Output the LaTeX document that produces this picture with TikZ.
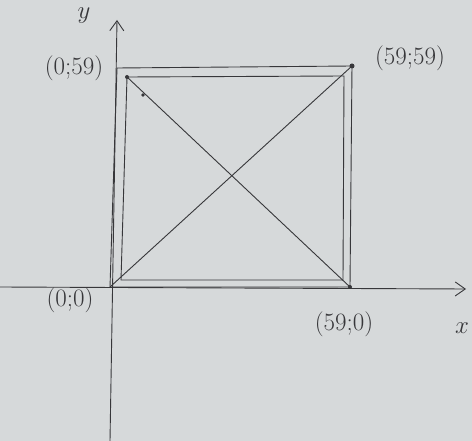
\documentclass[tikz,border=0pt]{standalone}
\usepackage{fontspec}
\usetikzlibrary{arrows.meta}
\definecolor{paper}{RGB}{214,217,218}
\definecolor{pencil}{RGB}{55,55,58}
\begin{document}
\begin{tikzpicture}[x=1pt, y=-1pt, >={Straight Barb[length=10pt,width=14pt]},
  every node/.style={font=\fontsize{25}{30}\selectfont, text=pencil}]
  \fill[paper] (0,0) rectangle (472,441);
  \useasboundingbox (0,0) rectangle (472,441);

  \begin{scope}[draw=pencil, line width=0.9pt]
  % axes
  \coordinate (xs) at (0,287);
  \coordinate (xe) at (466,289);
  \coordinate (ys) at (110,441);
  \coordinate (ye) at (117,20);
  \draw[->] (xs) -- (xe);
  \draw[->] (ys) -- (ye);

  % outer square
  \coordinate (O)  at (110,287);
  \coordinate (A)  at (117,68);
  \coordinate (B)  at (352,66);
  \coordinate (C)  at (350,287);
  \draw (O) -- (A) -- (B) -- (C) -- cycle;

  % inner square
  \coordinate (iO) at (121,280);
  \coordinate (iA) at (127,77);
  \coordinate (iB) at (344,76);
  \coordinate (iC) at (343,280);
  \draw (iO) -- (iA) -- (iB) -- (iC) -- cycle;

  % diagonals
  \draw (iA) -- (C);
  \draw (O) -- (B);

  \fill[pencil] (iA) circle (2pt);
  \fill[pencil] (143,95) circle (1.8pt);
  \fill[pencil] (B) circle (2.5pt);
  \fill[pencil] (C) circle (2pt);
  \end{scope}

  \node (lo) at (70,300) {(0;0)};
  \node (la) at (74,68) {(0;59)};
  \node (lb) at (410,58) {(59;59)};
  \node (lc) at (344,324) {(59;0)};
  \node (lx) at (462,328) {$x$};
  \node (ly) at (84,16) {$y$};
\end{tikzpicture}
\end{document}
